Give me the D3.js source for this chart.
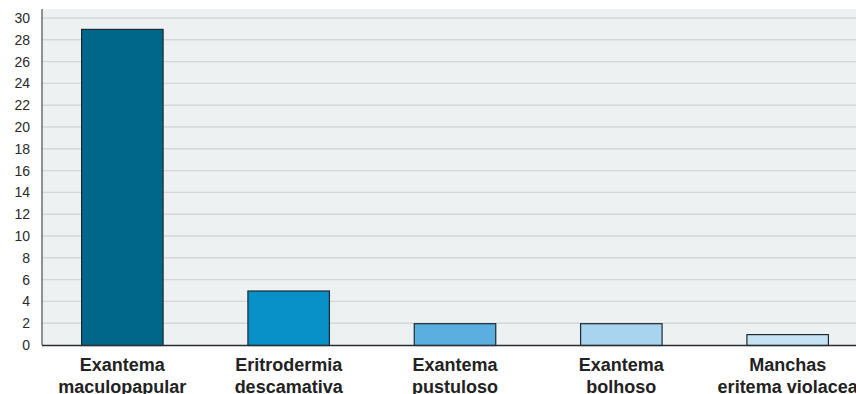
<!DOCTYPE html>
<html>
<head>
<meta charset="utf-8">
<script src="https://cdn.jsdelivr.net/npm/d3@7"></script>
<style>
  html, body { margin: 0; padding: 0; background: #ffffff; }
  svg { display: block; }
</style>
</head>
<body>
<svg id="chart" width="856" height="394"></svg>
<script>
// Categories (two-line labels) and counts
const categories = [
  ["Exantema", "maculopapular"],
  ["Eritrodermia", "descamativa"],
  ["Exantema", "pustuloso"],
  ["Exantema", "bolhoso"],
  ["Manchas", "eritema violacea"]
];
const values = [29, 5, 2, 2, 1];
const barColors = ["#00668a", "#0891c9", "#5aaee0", "#a8d4f0", "#c6e3f4"];
const yTicks = d3.range(0, 31, 2);

(function drawChart() {
  const svg = d3.select("#chart");
  const W = 856;
  const plotLeft = 42, plotTop = 9;
  const yBase = 345, yMaxPx = 18;

  const x = d3.scaleBand()
    .domain(d3.range(categories.length))
    .range([40, 870])
    .paddingInner(0.51)
    .paddingOuter(0.25);

  const y = d3.scaleLinear().domain([0, 30]).range([yBase, yMaxPx]);

  // plot background
  svg.append("rect")
    .attr("x", plotLeft).attr("y", plotTop)
    .attr("width", W - plotLeft).attr("height", yBase - plotTop)
    .attr("fill", "#eef1f2");

  // horizontal gridlines
  svg.append("g")
    .selectAll("line")
    .data(yTicks.filter(d => d > 0))
    .join("line")
    .attr("x1", plotLeft).attr("x2", W)
    .attr("y1", d => y(d)).attr("y2", d => y(d))
    .attr("stroke", "#d3d7da")
    .attr("stroke-width", 1.4);

  // bars
  svg.append("g")
    .selectAll("rect")
    .data(values)
    .join("rect")
    .attr("x", (d, i) => x(i))
    .attr("y", d => y(d) + 0.5)
    .attr("width", x.bandwidth())
    .attr("height", d => y(0) - y(d))
    .attr("fill", (d, i) => barColors[i])
    .attr("stroke", "#1e2a30")
    .attr("stroke-width", 1.2);

  // y axis
  const yAxis = d3.axisLeft(y).tickValues(yTicks).tickSize(0).tickPadding(12);
  const gy = svg.append("g").attr("transform", `translate(${plotLeft},0)`).call(yAxis);
  gy.select(".domain").attr("stroke", "#6b6f72").attr("stroke-width", 1.5)
    .attr("d", `M0,${plotTop}V${yBase}`);
  gy.selectAll("text")
    .attr("font-family", "Liberation Sans, Arial, sans-serif")
    .attr("font-size", 14)
    .attr("fill", "#2a2a2a");

  // x axis baseline
  svg.append("line")
    .attr("x1", plotLeft).attr("x2", W)
    .attr("y1", yBase + 0.5).attr("y2", yBase + 0.5)
    .attr("stroke", "#2a2e31").attr("stroke-width", 1.5);

  // category labels
  const lab = svg.append("g")
    .selectAll("text")
    .data(categories)
    .join("text")
    .attr("text-anchor", "middle")
    .attr("font-family", "Liberation Sans, Arial, sans-serif")
    .attr("font-weight", "bold")
    .attr("font-size", 18)
    .attr("fill", "#222222");
  lab.each(function(d, i) {
    const cx = x(i) + x.bandwidth() / 2;
    d3.select(this).selectAll("tspan")
      .data(d)
      .join("tspan")
      .attr("x", cx)
      .attr("y", (t, j) => 371 + j * 22)
      .text(t => t);
  });
})();
</script>
</body>
</html>
